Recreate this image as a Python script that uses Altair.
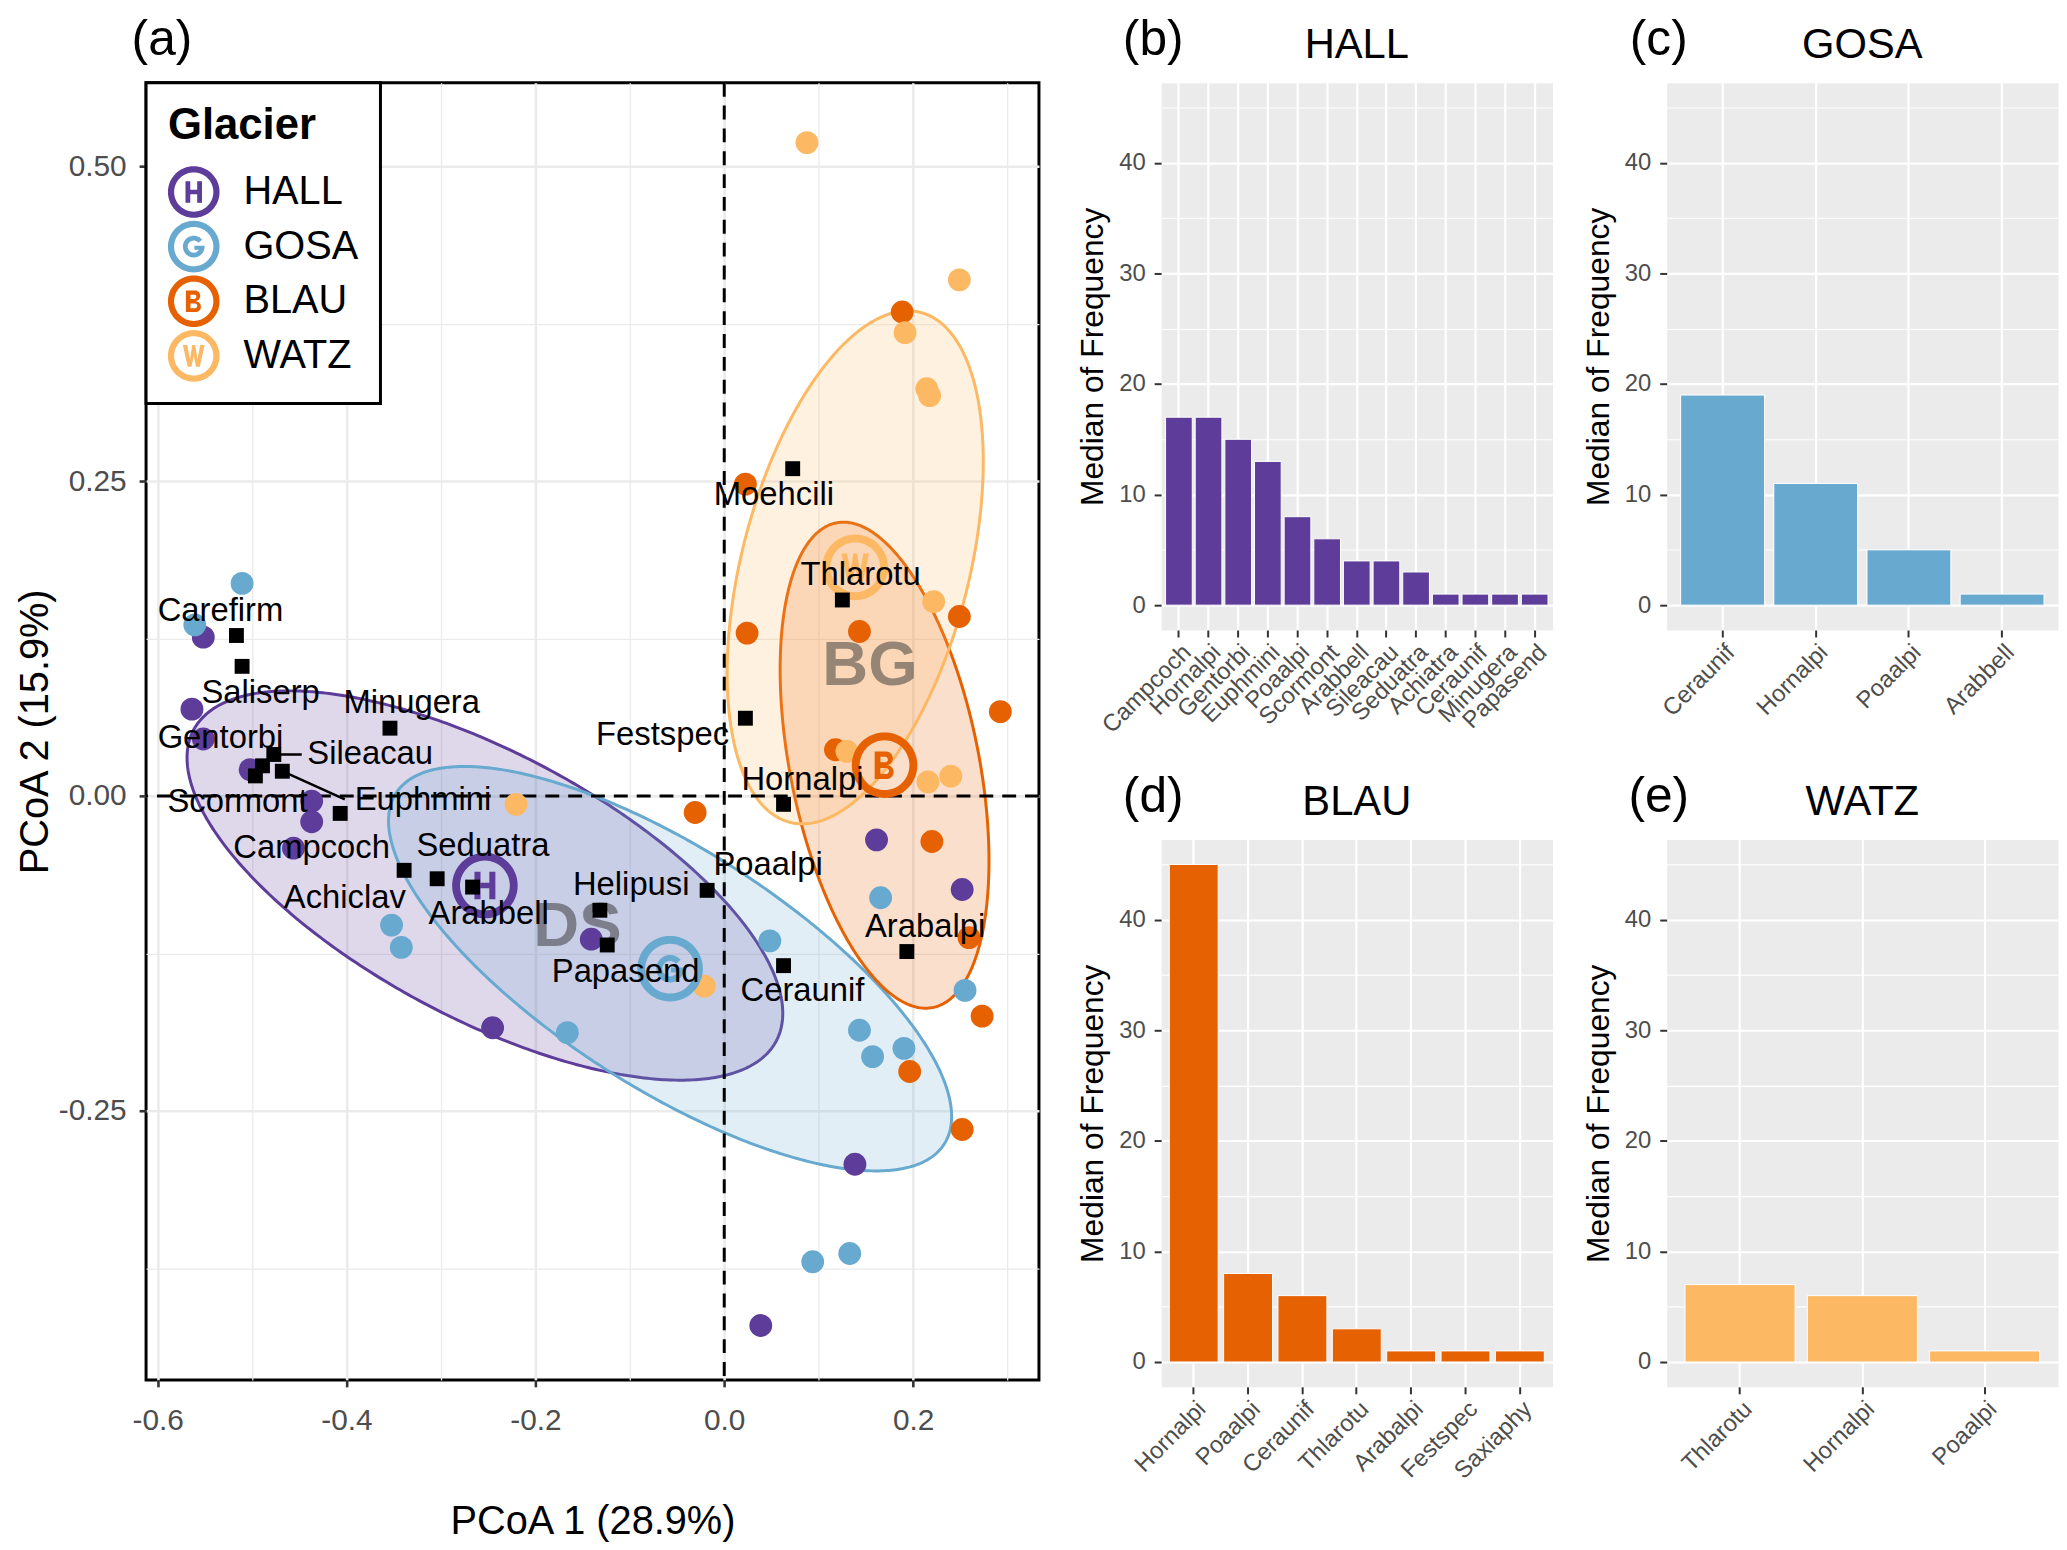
import altair as alt
import numpy as np
import pandas as pd

FONT = "Liberation Sans, Arial, Helvetica, sans-serif"

# ---------------- data ----------------
groups = ["HALL", "GOSA", "BLAU", "WATZ"]
group_colors = ["#5E3C99", "#67A9CF", "#E66101", "#FDB863"]
group_region = ["DS", "DS", "BG", "BG"]

hall_x = [-0.5517, -0.5637, -0.5517, -0.5021, -0.4369, -0.4369, -0.4562, -0.1408, -0.2453, 0.1613, 0.2520, 0.1384, 0.0387]
hall_y = [0.1262, 0.0690, 0.0453, 0.0210, -0.0040, -0.0204, -0.0414, -0.1137, -0.1840, -0.0348, -0.0742, -0.2924, -0.4205]
gosa_x = [-0.5106, -0.5607, -0.3523, -0.3420, -0.1662, 0.0483, 0.1656, 0.2550, 0.1432, 0.1571, 0.1903, 0.0937, 0.1329]
gosa_y = [0.1689, 0.1360, -0.1025, -0.1202, -0.1879, -0.1150, -0.0808, -0.1544, -0.1860, -0.2070, -0.2004, -0.3699, -0.3633]
blau_x = [0.1885, 0.0224, 0.0242, 0.1432, 0.2490, 0.2924, 0.1178, -0.0308, 0.2199, 0.2592, 0.2731, 0.1964, 0.2520]
blau_y = [0.3844, 0.2477, 0.1294, 0.1307, 0.1426, 0.0670, 0.0368, -0.0131, -0.0361, -0.1124, -0.1748, -0.2188, -0.2648]
watz_x = [0.0876, 0.2490, 0.1915, 0.2145, 0.2175, 0.2218, 0.1299, 0.2157, 0.2399, -0.2205, -0.0211]
watz_y = [0.5190, 0.4100, 0.3680, 0.3235, 0.3180, 0.1544, 0.0355, 0.0112, 0.0158, -0.0066, -0.1510]

# ellipse shape matrices (read from the drawn 95% ellipses)
ell_sxx = [0.0995, 0.0889, 0.01223, 0.01839]
ell_syy = [0.0239, 0.0258, 0.03725, 0.0415]
ell_sxy = [-0.032, -0.035, -0.0084, 0.0114]

species = ["Carefirm", "Saliserp", "Minugera", "Sileacau", "Gentorbi", "Euphmini", "Scormont",
           "Campcoch", "Achiclav", "Seduatra", "Arabbell", "Helipusi", "Papasend", "Poaalpi",
           "Ceraunif", "Arabalpi", "Hornalpi", "Festspec", "Thlarotu", "Moehcili"]
sp_x = [-0.5166, -0.5106, -0.354, -0.477, -0.489, -0.468, -0.4965, -0.4067, -0.339, -0.304,
        -0.2665, -0.1317, -0.1239, -0.0181, 0.0628, 0.1934, 0.0628, 0.0224, 0.1251, 0.0725]
sp_y = [0.1275, 0.103, 0.0539, 0.033, 0.024, 0.0197, 0.016, -0.0138, -0.059, -0.0657,
        -0.0723, -0.0907, -0.1183, -0.0749, -0.1347, -0.1235, -0.0066, 0.0618, 0.1557, 0.260]
lab_x = [-0.5335, -0.491, -0.331, -0.375, -0.5335, -0.319, -0.5154, -0.437, -0.4018, -0.2556,
         -0.2495, -0.0985, -0.1045, 0.0465, 0.0828, 0.2127, 0.0828, -0.0653, 0.1444, 0.0526]
lab_y = [0.147, 0.0815, 0.0736, 0.033, 0.046, -0.0033, -0.005, -0.0414, -0.0808, -0.0394,
         -0.094, -0.071, -0.140, -0.0545, -0.155, -0.1038, 0.0125, 0.0486, 0.1754, 0.239]
seg_species = ["Sileacau", "Euphmini"]
seg_x2 = [-0.4474, -0.4018]
seg_y2 = [0.0329, -0.0026]

hall_sp = ["Campcoch", "Hornalpi", "Gentorbi", "Euphmini", "Poaalpi", "Scormont", "Arabbell",
           "Sileacau", "Seduatra", "Achiatra", "Ceraunif", "Minugera", "Papasend"]
hall_med = [17, 17, 15, 13, 8, 6, 4, 4, 3, 1, 1, 1, 1]
gosa_sp = ["Ceraunif", "Hornalpi", "Poaalpi", "Arabbell"]
gosa_med = [19, 11, 5, 1]
blau_sp = ["Hornalpi", "Poaalpi", "Ceraunif", "Thlarotu", "Arabalpi", "Festspec", "Saxiaphy"]
blau_med = [45, 8, 6, 3, 1, 1, 1]
watz_sp = ["Thlarotu", "Hornalpi", "Poaalpi"]
watz_med = [7, 6, 1]

# ---------------- tables ----------------
pts = pd.concat(
    [pd.DataFrame({"group": g, "x": xs, "y": ys})
     for g, xs, ys in zip(groups, [hall_x, gosa_x, blau_x, watz_x], [hall_y, gosa_y, blau_y, watz_y])],
    ignore_index=True)
pts["region"] = pts["group"].map(dict(zip(groups, group_region)))

ell_rows = []
tt = np.linspace(np.pi, 0, 241)
for g, sxx, syy, sxy in zip(groups, ell_sxx, ell_syy, ell_sxy):
    sub = pts[pts.group == g]
    cx, cy = sub.x.mean(), sub.y.mean()
    det = sxx * syy - sxy ** 2
    dx = np.sqrt(sxx) * np.cos(tt)
    half = np.sqrt(np.clip(det * (sxx - dx ** 2), 0, None)) / sxx
    mid = cy + (sxy / sxx) * dx
    ell_rows.append(pd.DataFrame({"egroup": g, "ex": cx + dx, "ylo": mid - half, "yhi": mid + half}))
ell = pd.concat(ell_rows, ignore_index=True)

sp = pd.DataFrame({"species": species, "sx": sp_x, "sy": sp_y, "lx": lab_x, "ly": lab_y})
seg = sp[sp.species.isin(seg_species)].copy()
seg["x2"] = [seg_x2[seg_species.index(s)] for s in seg.species]
seg["y2"] = [seg_y2[seg_species.index(s)] for s in seg.species]

# ---------------- centroid symbols (ring + letter) ----------------
def orient(p, cw=True):
    a = sum(x1 * y2 - x2 * y1 for (x1, y1), (x2, y2) in zip(p, p[1:] + p[:1]))
    if (a > 0) != cw:
        p = p[::-1]
    return p

def subpath(p):
    return "M" + " L".join(f"{x:.3f},{y:.3f}" for x, y in p) + " Z"

def circ(cx, cy, r, a0=0, a1=360, n=64, closed=True):
    t = np.radians(np.linspace(a0, a1, n, endpoint=not closed))
    return [(cx + r * np.cos(v), cy + r * np.sin(v)) for v in t]

def scale(p, s=0.84):
    return [(x * s, y * s) for x, y in p]

ring = subpath(orient(circ(0, 0, 1.0), True)) + " " + subpath(orient(circ(0, 0, 0.76), False))

H = [(-0.38, -0.5), (-0.16, -0.5), (-0.16, -0.1), (0.16, -0.1), (0.16, -0.5), (0.38, -0.5),
     (0.38, 0.5), (0.16, 0.5), (0.16, 0.1), (-0.16, 0.1), (-0.16, 0.5), (-0.38, 0.5)]
G = (circ(0, 0, 0.5, -40, -360, 60, closed=False)
     + [(0.5, -0.04), (0.03, -0.04), (0.03, 0.14), (0.2425, 0.14)]
     + circ(0, 0, 0.28, 30, 320, 50, closed=False))
B_out = ([(-0.36, -0.5)] + circ(0.05, -0.25, 0.25, -90, 90, 25, closed=False)
         + circ(0.08, 0.25, 0.25, -90, 90, 25, closed=False) + [(-0.36, 0.5)])
B_c1 = [(-0.15, -0.305)] + circ(0.02, -0.205, 0.10, -90, 90, 16, closed=False) + [(-0.15, -0.105)]
B_c2 = [(-0.15, 0.10)] + circ(0.05, 0.21, 0.11, -90, 90, 16, closed=False) + [(-0.15, 0.32)]
W = [(-0.5, -0.5), (-0.3, -0.5), (-0.17, 0.17), (-0.07, -0.5), (0.07, -0.5), (0.17, 0.17),
     (0.3, -0.5), (0.5, -0.5), (0.28, 0.5), (0.1, 0.5), (0.0, -0.02), (-0.1, 0.5), (-0.28, 0.5)]

sym_H = ring + " " + subpath(orient(scale(H), True))
sym_G = ring + " " + subpath(orient(scale(G), True))
sym_B = (ring + " " + subpath(orient(scale(B_out), True)) + " " + subpath(orient(scale(B_c1), False))
         + " " + subpath(orient(scale(B_c2), False)))
sym_W = ring + " " + subpath(orient(scale(W), True))
group_symbols = [sym_H, sym_G, sym_B, sym_W]

# ---------------- panel (a) ----------------
W_A, H_A = 899, 1306
xscale = alt.Scale(domain=[-0.6123, 0.3333], nice=False, zero=False)
yscale = alt.Scale(domain=[-0.4637, 0.5665], nice=False, zero=False)
MINUS = "\u2212"
xaxis = alt.Axis(
    title="PCoA 1 (28.9%)", values=[-0.6, -0.5, -0.4, -0.3, -0.2, -0.1, 0.0, 0.1, 0.2, 0.3],
    labelExpr=f"abs(round(datum.value*10)) % 2 == 0 ? replace(format(datum.value, '.1f'), '{MINUS}', '-') : ''",
    grid=True, gridColor="#EBEBEB",
    gridWidth={"condition": {"test": "abs(round(datum.value*10)) % 2 == 0", "value": 2.6}, "value": 1.3},
    tickOpacity={"condition": {"test": "abs(round(datum.value*10)) % 2 == 0", "value": 1}, "value": 0},
    tickColor="#333333", tickWidth=2.6, tickSize=7, domain=False,
    labelFontSize=30, labelColor="#4D4D4D", labelPadding=19, labelFlush=False, labelOverlap=False,
    titleFontSize=40, titleFontWeight="normal", titleColor="black", titlePadding=67)
yaxis = alt.Axis(
    title="PCoA 2 (15.9%)", values=[-0.375, -0.25, -0.125, 0.0, 0.125, 0.25, 0.375, 0.5],
    labelExpr=f"abs(round(datum.value*8)) % 2 == 0 ? replace(format(datum.value, '.2f'), '{MINUS}', '-') : ''",
    grid=True, gridColor="#EBEBEB",
    gridWidth={"condition": {"test": "abs(round(datum.value*8)) % 2 == 0", "value": 2.6}, "value": 1.3},
    tickOpacity={"condition": {"test": "abs(round(datum.value*8)) % 2 == 0", "value": 1}, "value": 0},
    tickColor="#333333", tickWidth=2.6, tickSize=7, domain=False,
    labelFontSize=30, labelColor="#4D4D4D", labelPadding=13, labelFlush=False, labelOverlap=False,
    titleFontSize=40, titleFontWeight="normal", titleColor="black", titlePadding=3)


def X(f):
    return alt.X(f"{f}:Q", scale=xscale, axis=xaxis)


def Y(f):
    return alt.Y(f"{f}:Q", scale=yscale, axis=yaxis)


LEG = alt.Legend(title="Glacier", orient="top-left", offset=0, padding=22, strokeColor="black",
                 fillColor="white", titleFontSize=44, titleFontWeight="bold", titleColor="black",
                 titlePadding=18, labelFontSize=40, labelColor="black", labelOffset=24,
                 symbolSize=2704, rowPadding=3, symbolStrokeWidth=0, symbolOpacity=1, cornerRadius=0)
COLOR = alt.Color("group:N", scale=alt.Scale(domain=groups, range=group_colors), legend=LEG)
SHAPE = alt.Shape("group:N", scale=alt.Scale(domain=groups, range=group_symbols), legend=LEG)

# ellipse colour scales use a reversed domain so they never merge with the legend
rev_groups = groups[::-1]
rev_colors = group_colors[::-1]
ellipses = alt.Chart(ell).mark_area(fillOpacity=0.2, strokeWidth=3, strokeOpacity=1).encode(
    x=X("ex"), y=Y("ylo"), y2="yhi:Q",
    fill=alt.Fill("egroup:N", scale=alt.Scale(domain=rev_groups, range=rev_colors), legend=None),
    stroke=alt.Stroke("egroup:N", scale=alt.Scale(domain=rev_groups, range=rev_colors), legend=None),
)
zero_df = pd.DataFrame({"v": [0.0]})
vline = alt.Chart(zero_df).mark_rule(color="black", strokeWidth=3, strokeDash=[14, 9]).encode(x=X("v"))
hline = alt.Chart(zero_df).mark_rule(color="black", strokeWidth=3, strokeDash=[14, 9]).encode(y=Y("v"))

regions = alt.Chart(pts).transform_aggregate(
    cx="mean(x)", cy="mean(y)", groupby=["group", "region"]
).transform_aggregate(
    rx="mean(cx)", ry="mean(cy)", groupby=["region"]
).mark_text(fontSize=64, fontWeight="bold", color="#333333", opacity=0.5,
            align="center", baseline="middle").encode(x=X("rx"), y=Y("ry"), text="region:N")

points = alt.Chart(pts).mark_point(filled=True, shape="circle", size=529, opacity=1, strokeWidth=0).encode(
    x=X("x"), y=Y("y"), color=COLOR)

centroids = alt.Chart(pts).transform_aggregate(
    cx="mean(x)", cy="mean(y)", groupby=["group"]
).mark_point(filled=True, size=4356, opacity=1, strokeWidth=0).encode(
    x=X("cx"), y=Y("cy"), color=COLOR, shape=SHAPE)

squares = alt.Chart(sp).mark_point(shape="square", filled=True, color="black", size=225,
                                   opacity=1, strokeWidth=0).encode(x=X("sx"), y=Y("sy"))
segments = alt.Chart(seg).mark_rule(color="black", strokeWidth=2.5).encode(
    x=X("sx"), y=Y("sy"), x2="x2:Q", y2="y2:Q")
labels = alt.Chart(sp).mark_text(fontSize=33, color="black", align="center", baseline="middle").encode(
    x=X("lx"), y=Y("ly"), text="species:N")

TAG_SIZE, TAG_Y = 50, -28
tag_a = alt.Chart(pd.DataFrame({"t": ["(a)"]})).mark_text(
    fontSize=TAG_SIZE, color="black", align="center", baseline="alphabetic").encode(
    text="t:N", x=alt.value(16), y=alt.value(TAG_Y))

panel_a = alt.layer(ellipses, vline, hline, regions, points, centroids, squares, segments, labels, tag_a).properties(
    width=W_A, height=H_A, view=alt.ViewBackground(fill="white", stroke="black", strokeWidth=3))

# ---------------- bar panels ----------------
W_B, H_B = 394, 551
minor_test = "datum.value % 10 == 0"


def bar_panel(tag, name, sp_list, vals, color):
    df = pd.DataFrame({"species": sp_list, "freq": vals})
    bx = alt.Axis(title=None, labelAngle=-45, labelAlign="right", labelBaseline="top",
                  labelFontSize=24, labelColor="#4D4D4D", labelPadding=3, labelOverlap=False,
                  tickColor="#333333", tickSize=7, tickWidth=2, domain=False,
                  grid=True, gridColor="white", gridWidth=2.2)
    by = alt.Axis(title="Median of Frequency", values=list(range(0, 50, 5)),
                  labelExpr=f"{minor_test} ? datum.label : ''",
                  tickOpacity={"condition": {"test": minor_test, "value": 1}, "value": 0},
                  gridWidth={"condition": {"test": minor_test, "value": 2.2}, "value": 1.1},
                  grid=True, gridColor="white", tickColor="#333333", tickSize=7, tickWidth=2,
                  domain=False, labelFontSize=24, labelColor="#4D4D4D", labelPadding=9,
                  labelFlush=False, labelOverlap=False,
                  titleFontSize=32, titleFontWeight="normal", titleColor="black", titlePadding=9)
    bars = alt.Chart(df).mark_bar(color=color, stroke="white", strokeWidth=1).encode(
        x=alt.X("species:N", sort=sp_list, scale=alt.Scale(paddingInner=0.1, paddingOuter=0.15), axis=bx),
        y=alt.Y("freq:Q", scale=alt.Scale(domain=[-2.25, 47.25], nice=False, zero=False), axis=by),
        y2=alt.datum(0),
    )
    t1 = alt.Chart(pd.DataFrame({"t": [tag]})).mark_text(
        fontSize=TAG_SIZE, color="black", align="center", baseline="alphabetic").encode(
        text="t:N", x=alt.value(-8), y=alt.value(TAG_Y))
    t2 = alt.Chart(pd.DataFrame({"t": [name]})).mark_text(
        fontSize=42, color="black", align="center", baseline="alphabetic").encode(
        text="t:N", x=alt.value(W_B / 2), y=alt.value(-25))
    return alt.layer(bars, t1, t2).properties(
        width=W_B, height=H_B, view=alt.ViewBackground(fill="#EBEBEB", stroke="transparent"))


pb = bar_panel("(b)", "HALL", hall_sp, hall_med, group_colors[0])
pc = bar_panel("(c)", "GOSA", gosa_sp, gosa_med, group_colors[1])
pdd = bar_panel("(d)", "BLAU", blau_sp, blau_med, group_colors[2])
pe = bar_panel("(e)", "WATZ", watz_sp, watz_med, group_colors[3])

right = alt.vconcat(alt.hconcat(pb, pc, spacing=28), alt.hconcat(pdd, pe, spacing=28), spacing=33)
chart = alt.hconcat(panel_a, right, spacing=34).properties(
    padding={"top": 0, "left": 6, "right": 0, "bottom": 0}).configure(
    font=FONT).configure_legend(strokeWidth=3)

chart.save("out.html", embed_options={"renderer": "svg", "actions": False})
